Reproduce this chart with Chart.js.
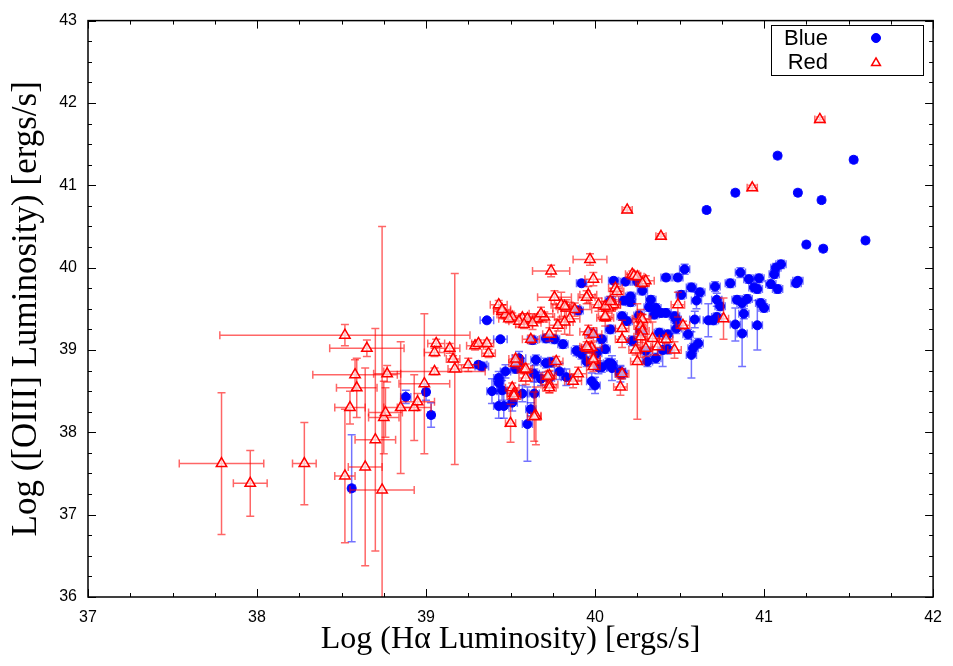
<!DOCTYPE html>
<html>
<head>
<meta charset="utf-8">
<script src="https://cdn.jsdelivr.net/npm/chart.js@4.4.1/dist/chart.umd.min.js"></script>
<style>
  html, body { margin: 0; padding: 0; background: #fff; }
  canvas { display: block; }
</style>
</head>
<body>
<canvas id="lumChart" width="953" height="666"></canvas>
<script>
// rows: [log L(Halpha), log L([OIII]), x error, y error]
const bluePoints = [
  [38.56,37.32,0.02,0.65],[38.88,38.43,0.03,0.08],[39.00,38.49,0.02,0.10],[39.03,38.21,0.02,0.15],
  [39.36,39.36,0.04,0.03],[39.44,39.13,0.04,0.03],[39.31,38.82,0.05,0.04],[39.33,38.80,0.04,0.05],
  [39.39,38.50,0.03,0.15],[39.45,38.51,0.03,0.12],[39.43,38.32,0.03,0.15],[39.46,38.32,0.03,0.15],
  [39.47,38.74,0.03,0.08],[39.51,38.36,0.03,0.10],[39.57,38.47,0.03,0.10],[39.55,38.90,0.04,0.08],
  [39.65,38.88,0.03,0.06],[39.64,38.71,0.03,0.10],[39.64,38.47,0.03,0.30],[39.62,38.28,0.03,0.08],
  [39.60,38.10,0.03,0.45],[39.71,39.14,0.03,0.05],[39.76,39.13,0.03,0.05],[39.81,39.07,0.03,0.05],
  [39.74,38.85,0.03,0.06],[39.73,38.66,0.03,0.08],[39.79,38.74,0.03,0.10],[39.83,38.67,0.03,0.10],
  [39.89,38.99,0.03,0.06],[39.92,38.95,0.03,0.06],[39.95,38.86,0.03,0.06],[39.96,39.02,0.03,0.05],
  [40.01,38.96,0.03,0.06],[40.02,38.79,0.03,0.08],[39.98,38.62,0.03,0.10],[40.00,38.57,0.03,0.10],
  [40.04,39.13,0.03,0.05],[40.09,39.25,0.03,0.05],[40.08,38.84,0.03,0.06],[40.10,38.78,0.03,0.15],
  [40.15,38.74,0.03,0.06],[40.16,38.71,0.03,0.06],[40.19,39.35,0.03,0.05],[40.22,39.11,0.03,0.06],
  [40.11,39.84,0.03,0.04],[40.18,39.83,0.03,0.04],[40.25,39.83,0.03,0.04],[39.92,39.81,0.03,0.04],
  [40.17,39.60,0.03,0.05],[40.21,39.65,0.03,0.05],[40.21,39.58,0.03,0.05],[40.09,39.60,0.03,0.05],
  [39.90,39.48,0.03,0.05],[40.42,39.88,0.03,0.04],[40.49,39.88,0.03,0.04],[40.53,39.98,0.03,0.06],
  [40.57,39.76,0.03,0.05],[40.60,39.60,0.03,0.10],[40.51,39.67,0.03,0.05],[40.28,39.72,0.03,0.05],
  [40.47,39.41,0.03,0.05],[40.42,39.45,0.03,0.05],[40.39,39.45,0.03,0.05],[40.59,39.37,0.03,0.10],
  [40.48,39.26,0.03,0.06],[40.55,39.19,0.03,0.06],[40.61,39.08,0.03,0.06],[40.58,39.02,0.03,0.06],
  [40.57,38.94,0.03,0.28],[40.36,39.51,0.03,0.05],[40.32,39.52,0.03,0.05],[40.35,39.43,0.03,0.05],
  [40.31,38.86,0.03,0.06],[40.36,38.90,0.03,0.06],[40.40,39.00,0.03,0.20],[40.43,39.01,0.03,0.06],
  [40.04,38.79,0.03,0.06],[40.10,38.83,0.03,0.06],[40.15,38.71,0.03,0.10],[40.67,39.36,0.03,0.20],
  [40.70,39.36,0.03,0.05],[40.71,39.77,0.03,0.06],[40.72,39.61,0.03,0.08],[40.74,39.53,0.03,0.05],
  [40.80,39.81,0.03,0.05],[40.86,39.94,0.03,0.06],[40.84,39.61,0.03,0.05],[40.87,39.57,0.03,0.05],
  [40.83,39.31,0.03,0.20],[40.87,39.20,0.03,0.40],[40.88,39.44,0.03,0.06],[40.91,39.86,0.03,0.05],
  [40.94,39.76,0.03,0.05],[40.97,39.87,0.03,0.05],[40.96,39.74,0.03,0.05],[40.98,39.57,0.03,0.05],
  [41.00,39.51,0.03,0.05],[40.96,39.30,0.03,0.30],[41.06,39.92,0.03,0.05],[41.07,40.00,0.03,0.05],
  [41.10,40.04,0.03,0.05],[41.04,39.80,0.03,0.05],[41.08,39.74,0.03,0.05],[41.19,39.81,0.03,0.04],
  [41.20,39.84,0.03,0.04],[41.08,41.36,0.02,0.02],[41.53,41.31,0.02,0.02],[41.20,40.91,0.02,0.02],
  [41.34,40.82,0.02,0.02],[40.83,40.91,0.02,0.02],[40.66,40.70,0.02,0.02],[41.60,40.33,0.02,0.02],
  [41.25,40.28,0.02,0.03],[41.35,40.23,0.02,0.03],[39.63,39.12,0.03,0.05],[39.55,38.86,0.03,0.05],
  [39.53,38.77,0.03,0.05],[39.43,38.66,0.03,0.08],[39.43,38.60,0.03,0.10],[39.71,38.84,0.03,0.06],
  [39.68,38.65,0.03,0.08],[40.27,39.23,0.03,0.05],[40.26,39.42,0.03,0.05],[40.33,39.61,0.03,0.05],
  [40.38,39.21,0.03,0.05],[40.30,38.99,0.03,0.05],[40.16,39.41,0.03,0.05],[40.06,39.01,0.03,0.05],
  [39.98,39.20,0.03,0.05],[40.43,39.19,0.03,0.05],[40.48,39.37,0.03,0.05],[40.62,39.70,0.03,0.05],
  [40.72,39.40,0.03,0.05],[40.90,39.62,0.03,0.05]
];

const redPoints = [
  [37.79,37.62,0.25,0.86],[37.96,37.38,0.10,0.40],[38.28,37.62,0.07,0.50],[38.52,39.18,0.74,0.13],
  [38.65,39.02,0.22,0.10],[38.58,38.70,0.25,0.18],[38.59,38.54,0.12,0.36],[38.55,38.30,0.09,0.20],
  [38.52,37.47,0.06,0.81],[38.64,37.58,0.10,1.20],[38.70,37.91,0.12,1.35],[38.74,37.30,0.19,3.20],
  [38.75,38.18,0.09,0.44],[38.76,38.24,0.10,0.30],[38.77,38.71,0.08,0.10],[38.85,38.30,0.10,0.80],
  [38.93,38.30,0.10,0.40],[38.95,38.37,0.10,0.10],[38.99,38.59,0.15,0.85],[39.05,38.74,0.30,0.04],
  [39.06,39.08,0.05,0.05],[39.05,38.97,0.06,0.05],[39.14,39.02,0.06,0.06],[39.16,38.89,0.04,0.04],
  [39.17,38.77,0.04,1.16],[39.25,38.82,0.06,0.08],[39.29,39.05,0.05,0.05],[39.31,39.08,0.04,0.04],
  [39.36,39.08,0.04,0.04],[39.37,38.96,0.04,0.05],[39.43,39.55,0.05,0.05],[39.45,39.47,0.05,0.08],
  [39.97,40.10,0.10,0.07],[39.74,39.96,0.11,0.07],[39.99,39.86,0.05,0.08],[39.76,39.64,0.10,0.08],
  [39.47,39.43,0.05,0.05],[39.51,39.40,0.05,0.05],[39.57,39.39,0.06,0.05],[39.60,39.38,0.05,0.06],
  [39.66,39.38,0.05,0.05],[39.55,39.35,0.06,0.07],[39.63,39.33,0.05,0.08],[39.80,39.55,0.06,0.15],
  [39.83,39.51,0.08,0.10],[39.88,39.49,0.10,0.08],[39.85,39.38,0.06,0.20],[39.82,39.34,0.05,0.15],
  [39.96,39.67,0.05,0.10],[40.02,39.55,0.05,0.08],[40.06,39.39,0.05,0.10],[40.10,39.55,0.05,0.06],
  [40.12,39.75,0.04,0.05],[40.22,39.92,0.04,0.04],[40.16,39.26,0.04,0.10],[40.16,39.13,0.04,0.10],
  [39.62,39.13,0.05,0.05],[39.73,39.19,0.04,0.08],[39.96,39.22,0.05,0.08],[39.99,39.19,0.05,0.08],
  [39.98,39.03,0.06,0.06],[39.53,38.84,0.04,0.06],[39.53,38.89,0.04,0.05],[39.58,38.76,0.04,0.05],
  [39.59,38.66,0.04,0.08],[39.77,38.86,0.04,0.06],[39.73,38.69,0.04,0.06],[39.73,38.58,0.05,0.10],
  [39.51,38.54,0.04,0.06],[39.52,38.47,0.04,0.06],[39.50,38.11,0.03,0.23],[39.65,38.20,0.03,0.35],
  [39.87,38.62,0.05,0.08],[39.90,38.71,0.05,0.08],[39.99,38.87,0.04,0.06],[39.99,38.80,0.04,0.06],
  [40.16,38.71,0.04,0.06],[40.15,38.55,0.04,0.10],[40.24,39.00,0.04,0.06],[40.39,40.38,0.03,0.03],
  [41.33,41.80,0.03,0.03],[40.93,40.97,0.03,0.03],[40.19,40.70,0.03,0.03],[40.23,39.90,0.04,0.04],
  [40.25,39.89,0.04,0.04],[40.30,39.84,0.05,0.06],[40.13,39.71,0.04,0.06],[40.11,39.55,0.04,0.06],
  [40.08,39.51,0.04,0.06],[40.06,39.53,0.04,0.06],[40.49,39.55,0.04,0.15],[40.52,39.30,0.04,0.05],
  [40.27,39.38,0.05,0.06],[40.28,39.37,0.05,0.06],[40.27,39.29,0.04,0.20],[40.28,39.23,0.04,0.20],
  [40.27,39.16,0.04,0.25],[40.34,39.14,0.04,0.20],[40.42,39.13,0.04,0.05],[40.30,39.02,0.04,0.10],
  [40.37,39.04,0.04,0.10],[40.47,39.00,0.04,0.10],[40.25,38.86,0.04,0.70],[40.76,39.38,0.03,0.25],
  [39.82,39.53,0.05,0.06],[39.95,39.64,0.05,0.08],[40.09,39.59,0.05,0.06],[40.28,39.81,0.04,0.05],
  [40.06,39.41,0.04,0.06],[39.96,39.02,0.04,0.06],[39.99,38.89,0.04,0.06],[39.95,39.04,0.04,0.06],
  [39.72,38.68,0.04,0.06],[39.73,38.54,0.04,0.06],[39.59,38.77,0.04,0.06],[39.52,38.44,0.04,0.06],
  [39.64,38.19,0.04,0.30],[39.45,39.49,0.05,0.06],[39.49,39.38,0.06,0.05],[39.70,39.40,0.06,0.06],
  [39.68,39.44,0.07,0.08],[39.58,39.31,0.05,0.05],[39.78,39.30,0.05,0.07]
];

const xTickValues = [37, 38, 39, 40, 41, 42];
const yTickValues = [36, 37, 38, 39, 40, 41, 42, 43];

const toXY = rows => rows.map(r => ({ x: r[0], y: r[1], dx: r[2], dy: r[3] }));

// error bars: drawn just before each dataset's own markers
const errorBars = {
  id: 'errorBars',
  beforeDatasetDraw(chart, args) {
    const ds = chart.data.datasets[args.index];
    const xs = chart.scales.x, ys = chart.scales.y;
    const area = chart.chartArea;
    const ctx = chart.ctx;
    const cap = 4;
    ctx.save();
    ctx.beginPath();
    ctx.rect(area.left, area.top, area.right - area.left, area.bottom - area.top);
    ctx.clip();
    ctx.strokeStyle = ds.errorColor;
    ctx.lineWidth = 1.5;
    ds.data.forEach(p => {
      const px = xs.getPixelForValue(p.x), py = ys.getPixelForValue(p.y);
      const x0 = xs.getPixelForValue(p.x - p.dx), x1 = xs.getPixelForValue(p.x + p.dx);
      const y0 = ys.getPixelForValue(p.y - p.dy), y1 = ys.getPixelForValue(p.y + p.dy);
      ctx.beginPath();
      ctx.moveTo(x0, py); ctx.lineTo(x1, py);
      ctx.moveTo(x0, py - cap); ctx.lineTo(x0, py + cap);
      ctx.moveTo(x1, py - cap); ctx.lineTo(x1, py + cap);
      ctx.moveTo(px, y0); ctx.lineTo(px, y1);
      ctx.moveTo(px - cap, y0); ctx.lineTo(px + cap, y0);
      ctx.moveTo(px - cap, y1); ctx.lineTo(px + cap, y1);
      ctx.stroke();
    });
    ctx.restore();
  }
};

// gnuplot-like frame with inward ticks on all four sides, plus boxed key
const frameAndKey = {
  id: 'frameAndKey',
  afterDraw(chart) {
    const ctx = chart.ctx;
    const { left, right, top, bottom } = chart.chartArea;
    const xs = chart.scales.x, ys = chart.scales.y;
    ctx.save();
    ctx.strokeStyle = '#000';
    ctx.lineWidth = 1;
    ctx.beginPath();
    for (let v = xs.min; v <= xs.max + 1e-9; v += 0.25) {
      const len = Math.abs(v - Math.round(v)) < 1e-6 ? 8 : 4;
      const px = Math.round(xs.getPixelForValue(v)) + 0.5;
      ctx.moveTo(px, bottom); ctx.lineTo(px, bottom - len);
      ctx.moveTo(px, top); ctx.lineTo(px, top + len);
    }
    for (let v = ys.min; v <= ys.max + 1e-9; v += 0.25) {
      const len = Math.abs(v - Math.round(v)) < 1e-6 ? 8 : 4;
      const py = Math.round(ys.getPixelForValue(v)) + 0.5;
      ctx.moveTo(left, py); ctx.lineTo(left + len, py);
      ctx.moveTo(right, py); ctx.lineTo(right - len, py);
    }
    ctx.stroke();
    ctx.lineWidth = 1.5;
    ctx.strokeRect(left, top, right - left, bottom - top);

    // key box
    const bx = 771, by = 25, bw = 152, bh = 50;
    ctx.fillStyle = '#fff';
    ctx.fillRect(bx, by, bw, bh);
    ctx.lineWidth = 1;
    ctx.strokeRect(bx + 0.5, by + 0.5, bw, bh);
    ctx.font = '22px "Liberation Sans", Arial, sans-serif';
    ctx.textAlign = 'right';
    ctx.textBaseline = 'middle';
    chart.data.datasets.forEach((ds, i) => {
      const cy = by + 13 + i * 24;
      const cx = bx + 105;
      ctx.fillStyle = '#000';
      ctx.fillText(ds.label, bx + 57, cy + 1);
      ctx.fillStyle = ds.backgroundColor;
      ctx.strokeStyle = ds.borderColor;
      ctx.lineWidth = ds.borderWidth;
      ctx.beginPath();
      if (ds.pointStyle === 'circle') {
        ctx.arc(cx, cy, ds.pointRadius, 0, Math.PI * 2);
      } else {
        const r = ds.pointRadius * 0.85, yy = cy + 1;
        ctx.moveTo(cx, yy - r);
        ctx.lineTo(cx + r * 0.866, yy + r / 2);
        ctx.lineTo(cx - r * 0.866, yy + r / 2);
        ctx.closePath();
      }
      ctx.fill();
      ctx.stroke();
    });
    ctx.restore();
  }
};

const tickFont = { family: '"Liberation Sans", Arial, sans-serif', size: 16 };
const serif = '"Liberation Serif", "Times New Roman", serif';

const ctx = document.getElementById('lumChart').getContext('2d');
const lumChart = new Chart(ctx, {
  type: 'scatter',
  data: {
    datasets: [{
      label: 'Blue',
      data: toXY(bluePoints),
      pointStyle: 'circle',
      pointRadius: 4.5,
      borderWidth: 1,
      backgroundColor: '#0000ff',
      borderColor: '#0000ff',
      errorColor: 'rgba(0, 0, 255, 0.55)',
      order: 2
    }, {
      label: 'Red',
      data: toXY(redPoints),
      pointStyle: 'triangle',
      pointRadius: 6,
      borderWidth: 1.5,
      backgroundColor: 'rgba(255, 255, 255, 0.6)',
      borderColor: '#ff0000',
      errorColor: 'rgba(255, 0, 0, 0.6)',
      order: 1
    }]
  },
  options: {
    responsive: false,
    animation: false,
    events: [],
    layout: { padding: { top: 18, right: 18, left: 0, bottom: 0 } },
    plugins: {
      legend: { display: false },
      tooltip: { enabled: false }
    },
    scales: {
      x: {
        type: 'linear',
        min: xTickValues[0],
        max: xTickValues[xTickValues.length - 1],
        afterBuildTicks: s => { s.ticks = xTickValues.map(v => ({ value: v })); },
        afterFit: s => { s.height = 69; },
        grid: { display: false, drawTicks: false },
        border: { display: false },
        ticks: { color: '#000', font: tickFont, padding: 11, maxRotation: 0 },
        title: {
          display: true,
          text: 'Log (Hα Luminosity) [ergs/s]',
          color: '#000',
          font: { family: serif, size: 32 },
          padding: { top: 0, bottom: 7 }
        }
      },
      y: {
        type: 'linear',
        min: yTickValues[0],
        max: yTickValues[yTickValues.length - 1],
        afterBuildTicks: s => { s.ticks = yTickValues.map(v => ({ value: v })); },
        afterFit: s => { s.width = 88; },
        grid: { display: false, drawTicks: false },
        border: { display: false },
        ticks: { color: '#000', font: tickFont, padding: 11 },
        title: {
          display: true,
          text: 'Log ([OIII] Luminosity) [ergs/s]',
          color: '#000',
          font: { family: serif, size: 35 },
          padding: { top: 6, bottom: 0 }
        }
      }
    }
  },
  plugins: [errorBars, frameAndKey]
});
</script>
</body>
</html>
